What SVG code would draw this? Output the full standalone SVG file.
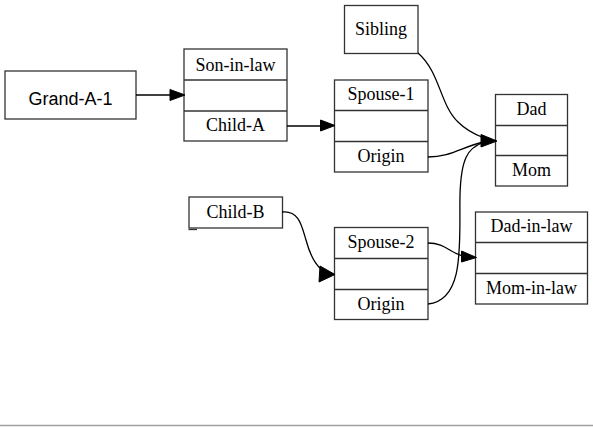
<svg xmlns="http://www.w3.org/2000/svg" width="593" height="427" viewBox="0 0 593 427">
<style>
.box{fill:#fff;stroke:#333;stroke-width:1.3}
.div{stroke:#333;stroke-width:1.3}
.t{font-family:"Liberation Serif","Times New Roman",serif;font-size:18px;text-anchor:middle;fill:#000}
.s{font-family:"Liberation Sans",Arial,sans-serif;font-size:18px;text-anchor:middle;fill:#000}
.e{fill:none;stroke:#000;stroke-width:1.3}
.ah{fill:#000;stroke:#000;stroke-width:1}
</style>
<rect width="593" height="427" fill="#fff"/>
<line x1="0" y1="425.5" x2="593" y2="425.5" stroke="#a0a0a0" stroke-width="1.5"/>
<g id="grand-a-1">
<rect class="box" x="5" y="71" width="131" height="48"/>
<text class="s" x="70.5" y="105">Grand-A-1</text>
</g>
<g id="son-in-law">
<rect class="box" x="184" y="49" width="103" height="92"/>
<line class="div" x1="184" y1="80" x2="287" y2="80"/>
<line class="div" x1="184" y1="111" x2="287" y2="111"/>
<text class="t" x="235.5" y="71">Son-in-law</text>
<text class="t" x="235.5" y="131">Child-A</text>
</g>
<g id="sibling">
<rect class="box" x="344.5" y="5.5" width="73.5" height="48"/>
<text class="t" x="381" y="35">Sibling</text>
</g>
<g id="spouse-1">
<rect class="box" x="334.5" y="80" width="93.5" height="92"/>
<line class="div" x1="334.5" y1="110.5" x2="428" y2="110.5"/>
<line class="div" x1="334.5" y1="141.5" x2="428" y2="141.5"/>
<text class="t" x="381" y="100">Spouse-1</text>
<text class="t" x="381" y="162">Origin</text>
</g>
<g id="dad">
<rect class="box" x="495.5" y="94.5" width="72" height="91.5"/>
<line class="div" x1="495.5" y1="125.5" x2="567.5" y2="125.5"/>
<line class="div" x1="495.5" y1="155.5" x2="567.5" y2="155.5"/>
<text class="t" x="531.5" y="114.5">Dad</text>
<text class="t" x="531.5" y="176">Mom</text>
</g>
<g id="child-b">
<rect class="box" x="189" y="197" width="93.5" height="31"/>
<line class="div" x1="188.5" y1="229.5" x2="197" y2="229.5"/>
<text class="t" x="235.5" y="218">Child-B</text>
</g>
<g id="spouse-2">
<rect class="box" x="334.5" y="227.5" width="93.5" height="92"/>
<line class="div" x1="334.5" y1="258.5" x2="428" y2="258.5"/>
<line class="div" x1="334.5" y1="289.5" x2="428" y2="289.5"/>
<text class="t" x="381" y="248">Spouse-2</text>
<text class="t" x="381" y="310">Origin</text>
</g>
<g id="dad-in-law">
<rect class="box" x="475.5" y="212" width="112" height="92"/>
<line class="div" x1="475.5" y1="242.5" x2="587.5" y2="242.5"/>
<line class="div" x1="475.5" y1="273.5" x2="587.5" y2="273.5"/>
<text class="t" x="531.5" y="232">Dad-in-law</text>
<text class="t" x="531.5" y="293.5">Mom-in-law</text>
</g>
<g id="connectors">
<path class="e" d="M136,95 L171,95"/>
<polygon class="ah" points="185,95 170,89.5 170,100.5"/>
<path class="e" d="M287,126 L321,126"/>
<polygon class="ah" points="335,125.5 320.5,120 320.5,131"/>
<path class="e" d="M418,53 C440,72 440,105 458,122 C466,130 474,134 483,137.5"/>
<path class="e" d="M428,157 C450,157 462,147 483,142"/>
<path class="e" d="M428,304 C466,300 459,240 460,195 C461,158 468,148 483,142.5"/>
<polygon class="ah" points="497,141 481,134.5 481,147"/>
<path class="e" d="M428,243 C445,243 450,253 463,256"/>
<polygon class="ah" points="476.5,257.5 461.5,251 461.5,262"/>
<path class="e" d="M282,212 C300,210 302,228 306,240 C310,255 314,263 321,269"/>
<polygon class="ah" points="335,274.5 320,266 319,282"/>
</g>
</svg>
